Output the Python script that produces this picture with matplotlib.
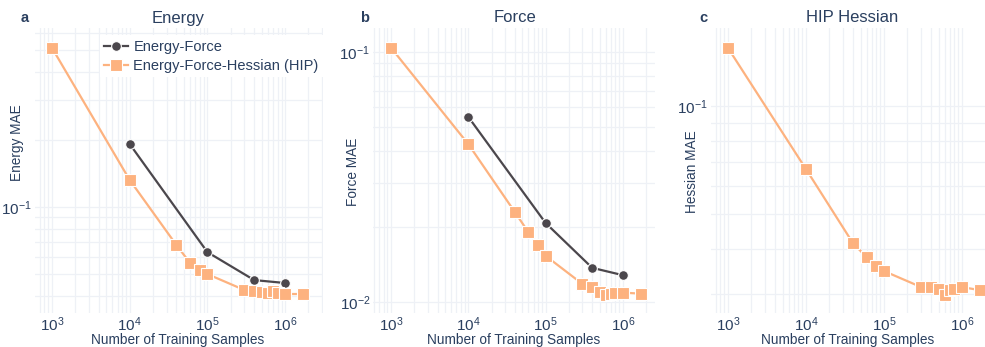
import numpy as np
import matplotlib
matplotlib.use("Agg")
import matplotlib.pyplot as plt
from matplotlib.ticker import LogLocator, NullFormatter

plt.rcParams['font.family'] = ['Liberation Sans', 'DejaVu Sans']
plt.rcParams['mathtext.fontset'] = 'custom'
plt.rcParams['mathtext.rm'] = 'Liberation Sans'
plt.rcParams['mathtext.it'] = 'Liberation Sans'

TXT = '#2a3f5f'
GRID = '#eef1f6'
ORANGE = '#fdb27f'
DARK = '#4b474c'

# training set sizes
n_hip = [1e3, 1e4, 4e4, 6e4, 8e4, 1e5, 3e5, 4e5, 5e5, 6e5, 7e5, 8e5, 1e6, 1.7e6]
n_ef = [1e4, 1e5, 4e5, 1e6]

# energy MAE
energy_hip = [0.513, 0.132, 0.0676, 0.0562, 0.0523, 0.0502, 0.0426, 0.0422,
              0.0417, 0.0413, 0.0422, 0.0413, 0.0409, 0.0409]
energy_ef = [0.191, 0.0629, 0.0472, 0.0458]

# force MAE
force_hip = [0.104, 0.0428, 0.0229, 0.019, 0.0169, 0.0153, 0.0118, 0.0115,
             0.0110, 0.01066, 0.0108, 0.0109, 0.0109, 0.0108]
force_ef = [0.055, 0.0207, 0.0137, 0.0128]

# hessian MAE (HIP only)
hessian_hip = [0.145, 0.0668, 0.0416, 0.038, 0.036, 0.0348, 0.0314, 0.0314,
               0.031, 0.0298, 0.0308, 0.031, 0.0314, 0.0308]

W, H = 985, 347
fig = plt.figure(figsize=(W / 100, H / 100), dpi=100)


def px_axes(x0, x1, y0=28, y1=313):
    return fig.add_axes([x0 / W, (H - y1) / H, (x1 - x0) / W, (y1 - y0) / H])


def style(ax, xlim, ylim):
    ax.set_xscale('log')
    ax.set_yscale('log')
    ax.set_xlim(*xlim)
    ax.set_ylim(*ylim)
    for s in ax.spines.values():
        s.set_visible(False)
    ax.xaxis.set_major_locator(LogLocator(base=10, numticks=20))
    ax.xaxis.set_minor_locator(LogLocator(base=10, subs=np.arange(2, 10), numticks=20))
    ax.yaxis.set_major_locator(LogLocator(base=10, numticks=20))
    ax.yaxis.set_minor_locator(LogLocator(base=10, subs=np.arange(2, 10), numticks=20))
    ax.xaxis.set_minor_formatter(NullFormatter())
    ax.yaxis.set_minor_formatter(NullFormatter())
    ax.grid(True, which='both', color=GRID, lw=0.9)
    ax.set_axisbelow(True)
    ax.tick_params(which='both', length=0, labelsize=11, colors=TXT)
    ax.tick_params(axis='x', pad=2)
    ax.tick_params(axis='y', pad=2)


line_kw = dict(lw=1.6)
sq_kw = dict(marker='s', ms=8, mec='white', mew=0.8, color=ORANGE)
ci_kw = dict(marker='o', ms=7, mec='white', mew=0.8, color=DARK)

# panel a
ax1 = px_axes(35, 323)
style(ax1, (10 ** 2.781, 10 ** 6.488), (10 ** -1.473, 10 ** -0.201))
ax1.plot(n_ef, energy_ef, label='Energy-Force', **line_kw, **ci_kw)
ax1.plot(n_hip, energy_hip, label='Energy-Force-Hessian (HIP)', **line_kw, **sq_kw)
leg = ax1.legend(loc='upper left', bbox_to_anchor=(0.2, 1.0), frameon=True,
                 facecolor='white', edgecolor='none', framealpha=1, fontsize=10.5,
                 labelcolor=TXT, handlelength=1.6, handletextpad=0.4,
                 borderpad=0.3, labelspacing=0.35)
leg.get_frame().set_boxstyle('square', pad=0)

# panel b
ax2 = px_axes(373, 655)
style(ax2, (10 ** 2.767, 10 ** 6.415), (10 ** -2.044, 10 ** -0.904))
ax2.plot(n_ef, force_ef, **line_kw, **ci_kw)
ax2.plot(n_hip, force_hip, **line_kw, **sq_kw)

# panel c
ax3 = px_axes(711, 985)
style(ax3, (10 ** 2.782, 10 ** 6.295), (10 ** -1.575, 10 ** -0.783))
ax3.plot(n_hip, hessian_hip, clip_on=False, **line_kw, **sq_kw)

# titles, panel letters, axis labels
for x, t in [(178, 'Energy'), (515, 'Force'), (852, 'HIP Hessian')]:
    fig.text(x / W, 1 - 18 / H, t, ha='center', va='center', fontsize=12, color=TXT)
for x, t in [(25, 'a'), (365, 'b'), (703, 'c')]:
    fig.text(x / W, 1 - 18 / H, t, ha='center', va='center', fontsize=10.5,
             color=TXT, fontweight='bold')
for x, y, t in [(17, 143, 'Energy MAE'), (353, 172, 'Force MAE'), (692, 172, 'Hessian MAE')]:
    fig.text(x / W, 1 - y / H, t, ha='center', va='center', rotation=90,
             fontsize=9.8, color=TXT)
for x in [178, 514, 848]:
    fig.text(x / W, 1 - 340 / H, 'Number of Training Samples', ha='center',
             va='center', fontsize=9.8, color=TXT)

fig.savefig('out.png', dpi=100)
